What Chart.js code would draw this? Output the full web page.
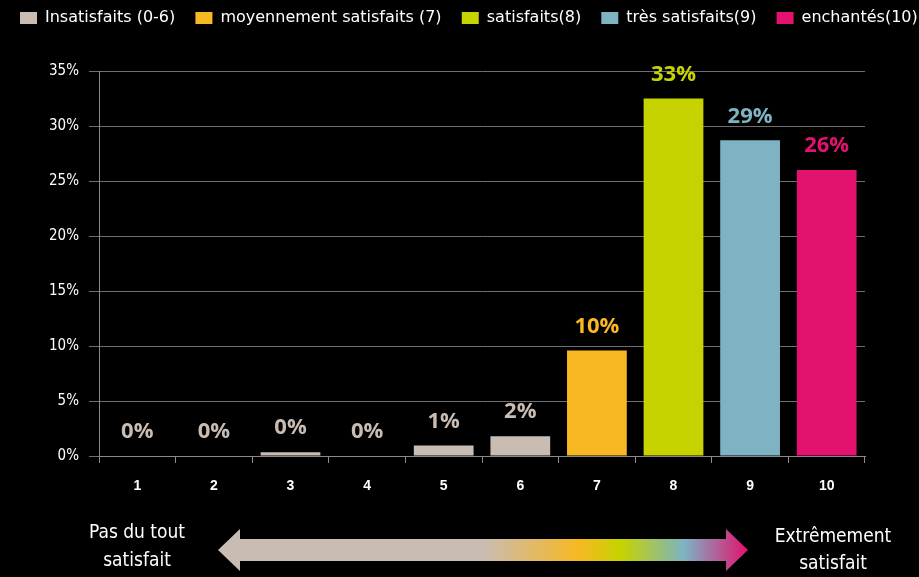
<!DOCTYPE html>
<html>
<head>
<meta charset="utf-8">
<script src="https://cdn.jsdelivr.net/npm/chart.js@4.4.1/dist/chart.umd.min.js"></script>
<style>
  html, body { margin: 0; padding: 0; background: #000; }
  #wrap { width: 919px; height: 577px; position: relative; }
</style>
</head>
<body>
<div id="wrap"><canvas id="chart" width="919" height="577"></canvas></div>
<script>
// data
const categories = ['1', '2', '3', '4', '5', '6', '7', '8', '9', '10'];
const values = [0, 0, 0.35, 0, 0.95, 1.8, 9.6, 32.5, 28.7, 26];
const valueLabels = ['0%', '0%', '0%', '0%', '1%', '2%', '10%', '33%', '29%', '26%'];
const yTicks = ['0%', '5%', '10%', '15%', '20%', '25%', '30%', '35%'];
const groupNames = ['Insatisfaits (0-6)', 'moyennement satisfaits (7)', 'satisfaits(8)', 'très satisfaits(9)', 'enchantés(10)'];
const groupColors = ['#c9bcb3', '#f7b823', '#c6d300', '#7db3c3', '#e2126e'];
const barGroup = [0, 0, 0, 0, 0, 0, 1, 2, 3, 4];

const FONT = '"DejaVu Sans Condensed", "Liberation Sans", sans-serif';
const LEGEND_FONT = '"DejaVu Sans", "Liberation Sans", sans-serif';

// value labels above the bars
const valueLabelPlugin = {
    id: 'valueLabels',
    afterDatasetsDraw(chart) {
        const ctx = chart.ctx;
        const meta = chart.getDatasetMeta(0);
        ctx.save();
        ctx.font = 'bold 22px "Open Sans", sans-serif';
        ctx.textAlign = 'center';
        ctx.textBaseline = 'middle';
        meta.data.forEach((bar, i) => {
            ctx.fillStyle = groupColors[barGroup[i]];
            ctx.fillText(valueLabels[i], bar.x, bar.y - 24);
        });
        ctx.restore();
    }
};

// legend spans the full width and leaves room above the plot
const legendGapPlugin = {
    id: 'legendGap',
    beforeLayout(chart) {
        const lg = chart.legend;
        if (lg && !lg._gapWrapped) {
            const fit = lg.fit;
            lg.fit = function () {
                this.maxWidth = 1000;
                fit.call(this);
                this.height = 71;
            };
            lg._gapWrapped = true;
        }
    },
    afterLayout(chart) {
        const lg = chart.legend;
        if (lg) {
            lg.right = 1000;
            lg.width = lg.right - lg.left;
        }
    }
};

// the scale arrow and its two captions under the axis
const arrowPlugin = {
    id: 'scaleArrow',
    afterDraw(chart) {
        const ctx = chart.ctx;
        const left = 218, right = 748, cy = 550;
        const head = 22, body = 11, headH = 21;
        ctx.save();
        const grad = ctx.createLinearGradient(left, 0, right, 0);
        grad.addColorStop(0, '#c9bcb3');
        grad.addColorStop(0.5, '#c9bcb3');
        grad.addColorStop(0.68, '#f7b823');
        grad.addColorStop(0.76, '#c6d300');
        grad.addColorStop(0.88, '#7db3c3');
        grad.addColorStop(1, '#e2126e');
        ctx.fillStyle = grad;
        ctx.beginPath();
        ctx.moveTo(left, cy);
        ctx.lineTo(left + head, cy - headH);
        ctx.lineTo(left + head, cy - body);
        ctx.lineTo(right - head, cy - body);
        ctx.lineTo(right - head, cy - headH);
        ctx.lineTo(right, cy);
        ctx.lineTo(right - head, cy + headH);
        ctx.lineTo(right - head, cy + body);
        ctx.lineTo(left + head, cy + body);
        ctx.lineTo(left + head, cy + headH);
        ctx.closePath();
        ctx.fill();

        ctx.fillStyle = '#fff';
        ctx.font = '19px ' + FONT;
        ctx.textAlign = 'center';
        ctx.textBaseline = 'middle';
        ctx.fillText('Pas du tout', 137, 533);
        ctx.fillText('satisfait', 137, 561);
        ctx.fillText('Extrêmement', 833, 537);
        ctx.fillText('satisfait', 833, 564);
        ctx.restore();
    }
};

const ctx = document.getElementById('chart').getContext('2d');
const chart = new Chart(ctx, {
    type: 'bar',
    data: {
        labels: categories,
        datasets: [{
            data: values,
            backgroundColor: barGroup.map(g => groupColors[g]),
            barPercentage: 0.78,
            categoryPercentage: 1
        }]
    },
    options: {
        responsive: false,
        animation: false,
        layout: { padding: { left: 10, right: 54, top: 0, bottom: 0 } },
        plugins: {
            tooltip: { enabled: false },
            legend: {
                position: 'top',
                align: 'start',
                onClick: null,
                labels: {
                    color: '#fff',
                    font: { family: LEGEND_FONT, size: 16 },
                    boxWidth: 17,
                    boxHeight: 12,
                    padding: 10,
                    generateLabels: () => groupNames.map((name, i) => ({
                        text: i < groupNames.length - 1 ? name + '\u00a0\u00a0' : name,
                        fillStyle: groupColors[i],
                        strokeStyle: groupColors[i],
                        lineWidth: 0,
                        fontColor: '#fff',
                        index: i
                    }))
                }
            }
        },
        scales: {
            x: {
                afterFit: s => { s.height = 121; },
                grid: {
                    display: true,
                    drawOnChartArea: false,
                    drawTicks: true,
                    tickLength: 7,
                    color: '#8a8a8a',
                    offset: true
                },
                border: { display: true, color: '#8a8a8a', width: 1 },
                ticks: {
                    color: '#fff',
                    padding: 15,
                    font: { family: '"Liberation Sans", sans-serif', size: 14, weight: 'bold' }
                }
            },
            y: {
                min: 0,
                max: 35,
                afterFit: s => { s.width = 89; },
                grid: {
                    color: '#6f6f6f',
                    lineWidth: 1,
                    tickLength: 10,
                    drawTicks: true
                },
                border: { display: true, color: '#8a8a8a', width: 1 },
                ticks: {
                    stepSize: 5,
                    color: '#fff',
                    padding: 10,
                    font: { family: FONT, size: 15 },
                    callback: (v) => yTicks[v / 5]
                }
            }
        }
    },
    plugins: [legendGapPlugin, valueLabelPlugin, arrowPlugin]
});
</script>
</body>
</html>
